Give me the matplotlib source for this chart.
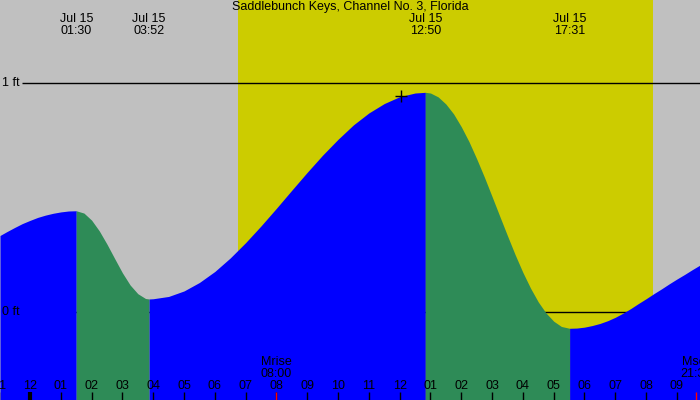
import numpy as np
import matplotlib
matplotlib.use('Agg')
import matplotlib.pyplot as plt
import matplotlib.transforms as mtransforms

plt.rcParams['font.family'] = ['Liberation Sans', 'DejaVu Sans']
plt.rcParams['font.size'] = 9

# tide height curve (hours since midnight, feet)
hours = [-0.974, -0.75, -0.5, -0.25, 0.0, 0.25, 0.5, 0.75, 1.0, 1.25, 1.5,
         1.75, 2.0, 2.25, 2.5, 2.75, 3.0, 3.25, 3.5, 3.75, 3.867,
         4.0, 4.5, 5.0, 5.5, 6.0, 6.5, 7.0, 7.5, 8.0, 8.5, 9.0, 9.5,
         10.0, 10.5, 11.0, 11.5, 12.0, 12.5, 12.833,
         13.0, 13.25, 13.5, 13.75, 14.0, 14.25, 14.5, 14.75, 15.0, 15.25,
         15.5, 15.75, 16.0, 16.25, 16.5, 16.75, 17.0, 17.25, 17.517,
         17.75, 18.0, 18.25, 18.5, 18.75, 19.0, 19.25, 19.5, 19.75, 20.0,
         20.25, 20.5, 20.75, 21.0, 21.25, 21.5, 21.75]
heights = [0.334, 0.351, 0.369, 0.386, 0.400, 0.413, 0.423, 0.431, 0.437, 0.441, 0.442,
           0.432, 0.401, 0.354, 0.296, 0.233, 0.171, 0.118, 0.080, 0.059, 0.057,
           0.058, 0.068, 0.092, 0.129, 0.177, 0.236, 0.303, 0.376, 0.453, 0.532, 0.610, 0.685,
           0.754, 0.817, 0.869, 0.910, 0.940, 0.956, 0.959,
           0.956, 0.939, 0.908, 0.865, 0.809, 0.744, 0.669, 0.589, 0.504, 0.418,
           0.333, 0.250, 0.173, 0.104, 0.044, -0.004, -0.040, -0.063, -0.071,
           -0.070, -0.066, -0.059, -0.050, -0.038, -0.023, -0.005, 0.015, 0.037, 0.058,
           0.080, 0.101, 0.123, 0.144, 0.164, 0.185, 0.205]

# high / low events
event_hours = [1.5, 3.867, 12.833, 17.517]
event_labels = ['01:30', '03:52', '12:50', '17:31']

sunrise, sunset = 6.75, 20.23
moon_hours = [8.0, 21.62]
moon_labels = ['Mrise\n08:00', 'Mset\n21:37']

tick_hours = list(range(-1, 22))
tick_labels = ['%02d' % ((h % 12) or 12) for h in tick_hours]

xmin, xmax = -0.974, 21.75
ymin, ymax = -0.384, 1.362

fig = plt.figure(figsize=(7, 4), dpi=100)
ax = fig.add_axes([0, 0, 1, 1])
ax.set_xlim(xmin, xmax)
ax.set_ylim(ymin, ymax)
ax.axis('off')
fig.patch.set_facecolor('#c0c0c0')
ax.set_facecolor('#c0c0c0')

# daylight
ax.axvspan(sunrise, sunset, color='#cccc00', lw=0, zorder=1)

# reference lines
x0 = xmin + 22 / 700 * (xmax - xmin)
ax.hlines([1, 0], x0, xmax, colors='black', lw=1, zorder=2)

# tide fill: blue rising, green falling
h = np.array(hours)
v = np.array(heights)
bounds = [xmin] + event_hours + [xmax]
for i in range(len(bounds) - 1):
    m = (h >= bounds[i]) & (h <= bounds[i + 1])
    c = '#0000ff' if i % 2 == 0 else '#2e8b57'
    ax.fill_between(h[m], ymin, v[m], color=c, lw=0, zorder=3)

ax.plot(12.05, 0.943, marker='+', color='black', ms=9, mew=1, zorder=5)

# labels
ax.text(10.4, ymax - 0.03, 'Saddlebunch Keys, Channel No. 3, Florida',
        ha='center', va='center')
for eh, el in zip(event_hours, event_labels):
    ax.text(eh, 1.253, 'Jul 15\n' + el, ha='center', va='center', linespacing=1.0)
ax.text(xmin + 0.06, 1.0, '1 ft', ha='left', va='center')
ax.text(xmin + 0.06, 0.0, '0 ft', ha='left', va='center')

trans = mtransforms.blended_transform_factory(ax.transData, ax.transAxes)
ax.vlines(tick_hours, 0, 0.02, colors='black', lw=1, transform=trans, zorder=6)
ax.vlines([0], 0, 0.02, colors='black', lw=3, transform=trans, zorder=6)
ax.vlines(moon_hours, 0, 0.02, colors='red', lw=1, transform=trans, zorder=7)
for th, tl in zip(tick_hours, tick_labels):
    ax.text(th, 0.035, tl, ha='center', va='center', transform=trans, zorder=6)
for mh, ml in zip(moon_hours, moon_labels):
    ax.text(mh, 0.079, ml, ha='center', va='center', transform=trans,
            linespacing=1.0, zorder=6)

fig.savefig('out.png', dpi=100, facecolor=fig.get_facecolor())
